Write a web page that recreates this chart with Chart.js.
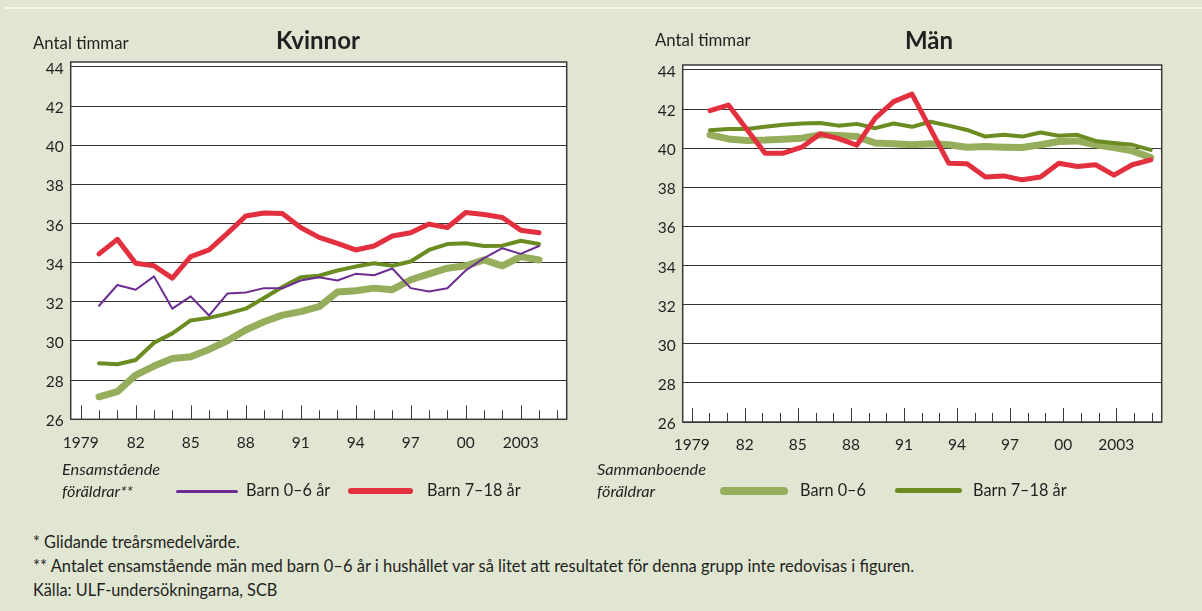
<!DOCTYPE html>
<html lang="sv">
<head>
<meta charset="utf-8">
<script src="https://cdn.jsdelivr.net/npm/chart.js@4.4.1/dist/chart.umd.min.js"></script>
<style>
  body { margin: 0; background: #e1e6d3; font-family: Lato, "Open Sans", sans-serif; color: #231f20; }
  #page { position: relative; width: 1202px; height: 611px; overflow: hidden; }
  .topline { position: absolute; left: 4px; right: 0; top: 7px; height: 2px; background: #f4f6ee; }
  canvas { position: absolute; top: 0; }
  .txt { position: absolute; white-space: nowrap; font-size: 16.3px; line-height: 1; }
  .title { position: absolute; font-size: 24px; font-weight: bold; line-height: 1; transform: translateX(-50%); }
  .sw { position: absolute; border-radius: 4px; }
  .it { font-style: italic; }
</style>
</head>
<body>
<div id="page">
  <div class="topline"></div>
  <canvas id="kvinnor" width="600" height="460" style="left:0"></canvas>
  <canvas id="man" width="602" height="460" style="left:600px"></canvas>

  <div class="txt" style="left:33px; top:35px; font-size:16.8px">Antal timmar</div>
  <div class="title" style="left:318px; top:28px">Kvinnor</div>
  <div class="txt" style="left:655px; top:32px; font-size:16.8px">Antal timmar</div>
  <div class="title" style="left:929px; top:28px">Män</div>

  <!-- legend -->
  <div class="txt it" style="left:62px; top:461px">Ensamstående</div>
  <div class="txt it" style="left:62px; top:483px">föräldrar**</div>
  <div class="sw" style="left:176px; top:490px; width:62px; height:3px; background:#6d2c91"></div>
  <div class="txt" style="left:246px; top:482px">Barn 0–6 år</div>
  <div class="sw" style="left:348px; top:488px; width:65px; height:6px; background:#e3303f"></div>
  <div class="txt" style="left:427px; top:482px">Barn 7–18 år</div>

  <div class="txt it" style="left:597px; top:461px">Sammanboende</div>
  <div class="txt it" style="left:597px; top:483px">föräldrar</div>
  <div class="sw" style="left:720px; top:487px; width:68px; height:8px; background:#96ad5b"></div>
  <div class="txt" style="left:800px; top:482px">Barn 0–6</div>
  <div class="sw" style="left:895px; top:488px; width:67px; height:5px; background:#6b8c21"></div>
  <div class="txt" style="left:973px; top:482px">Barn 7–18 år</div>

  <!-- notes -->
  <div class="txt" style="left:33px; top:534px">* Glidande treårsmedelvärde.</div>
  <div class="txt" style="left:33px; top:558px; font-size:16.5px">** Antalet ensamstående män med barn 0–6 år i hushållet var så litet att resultatet för denna grupp inte redovisas i figuren.</div>
  <div class="txt" style="left:33px; top:582px">Källa: ULF-undersökningarna, SCB</div>
</div>

<script>
// survey years
const years = [1980, 1981, 1982, 1983, 1984, 1985, 1986, 1987, 1988, 1989, 1990, 1991, 1992,
               1993, 1994, 1995, 1996, 1997, 1998, 1999, 2000, 2001, 2002, 2003, 2004];

// x axis labels (only every third year is labelled)
const tickYears = [1979, 1982, 1985, 1988, 1991, 1994, 1997, 2000, 2003];
const tickLabels = ['1979', '82', '85', '88', '91', '94', '97', '00', '2003'];

// women, hours per week
const kvinnorEnsam06 = [31.8, 32.86, 32.62, 33.3, 31.65, 32.28, 31.3, 32.42, 32.48, 32.7, 32.69, 33.09, 33.26,
                        33.09, 33.43, 33.36, 33.7, 32.7, 32.53, 32.69, 33.6, 34.23, 34.74, 34.45, 34.85];
const kvinnorEnsam718 = [34.45, 35.19, 33.97, 33.84, 33.21, 34.31, 34.65, 35.5, 36.38, 36.54, 36.51, 35.8, 35.29,
                         34.99, 34.65, 34.85, 35.36, 35.53, 35.97, 35.8, 36.56, 36.46, 36.31, 35.66, 35.53];
const kvinnorSamman06 = [27.15, 27.41, 28.26, 28.72, 29.11, 29.19, 29.57, 30.01, 30.56, 30.98, 31.32, 31.5, 31.75,
                         32.5, 32.57, 32.7, 32.62, 33.13, 33.43, 33.72, 33.84, 34.14, 33.84, 34.31, 34.14];
const kvinnorSamman718 = [28.86, 28.81, 29.03, 29.91, 30.39, 31.05, 31.18, 31.4, 31.65, 32.2, 32.76, 33.26, 33.33,
                          33.6, 33.8, 33.97, 33.84, 34.06, 34.65, 34.95, 34.99, 34.85, 34.87, 35.12, 34.95];

// men, hours per week
const manEnsam718 = [41.92, 42.2, 40.97, 39.74, 39.74, 40.05, 40.73, 40.49, 40.15, 41.53, 42.38, 42.76, 41.0,
                     39.23, 39.2, 38.52, 38.58, 38.38, 38.52, 39.23, 39.06, 39.15, 38.62, 39.15, 39.4];
const manSamman06 = [40.68, 40.47, 40.39, 40.41, 40.46, 40.51, 40.68, 40.64, 40.59, 40.26, 40.22, 40.17, 40.23,
                     40.17, 40.05, 40.08, 40.05, 40.03, 40.17, 40.34, 40.37, 40.17, 40.03, 39.86, 39.52];
const manSamman718 = [40.92, 40.98, 40.98, 41.09, 41.2, 41.26, 41.28, 41.15, 41.24, 41.02, 41.26, 41.09, 41.35,
                      41.15, 40.93, 40.59, 40.68, 40.59, 40.8, 40.63, 40.68, 40.37, 40.26, 40.17, 39.91];

const RED = '#e3303f', PURPLE = '#6d2c91', DARK = '#6b8c21', LIGHT = '#96ad5b';
const FONT = 'Lato, "Open Sans", sans-serif';

function pts(vals) {
    return years.map((yr, i) => ({ x: yr, y: vals[i] }));
}

function line(vals, color, width, axis) {
    return {
        data: pts(vals),
        borderColor: color,
        borderWidth: width,
        borderCapStyle: 'round',
        borderJoinStyle: 'round',
        pointRadius: 0,
        tension: 0,
        fill: false,
        xAxisID: axis
    };
}

// white plot area, frame and the small tick marks standing up from the bottom
const framePlugin = {
    id: 'frame',
    beforeDraw(chart) {
        const a = chart.chartArea, ctx = chart.ctx;
        ctx.save();
        ctx.fillStyle = '#fff';
        ctx.fillRect(a.left, a.top, a.right - a.left, a.bottom - a.top);
        ctx.restore();
    },
    beforeDatasetsDraw(chart) {
        const a = chart.chartArea, ctx = chart.ctx, sx = chart.scales.x;
        ctx.save();
        ctx.strokeStyle = '#3a3a3a';
        ctx.lineWidth = 1;
        sx.ticks.forEach((t, i) => {
            const px = Math.round(sx.getPixelForTick(i)) + 0.5;
            const len = tickYears.includes(t.value) ? 14 : 9;
            ctx.beginPath();
            ctx.moveTo(px, a.bottom);
            ctx.lineTo(px, a.bottom - len);
            ctx.stroke();
        });
        ctx.lineWidth = 1.5;
        ctx.strokeRect(a.left, a.top, a.right - a.left, a.bottom - a.top);
        ctx.restore();
    }
};

function makeChart(id, datasets, box, xRange, dataRange) {
    const scales = {
        x: {
            type: 'linear',
            min: xRange[0],
            max: xRange[1],
            grid: { display: false },
            border: { display: false },
            afterFit(s) { s.height = box.xh; },
            ticks: {
                stepSize: 1,
                includeBounds: false,
                autoSkip: false,
                maxRotation: 0,
                padding: 6,
                color: '#231f20',
                font: { family: FONT, size: 15.5 },
                callback: v => {
                    const k = tickYears.indexOf(v);
                    return k >= 0 ? tickLabels[k] : '';
                }
            }
        },
        y: {
            min: 26,
            max: 44.25,
            grid: { color: '#333', lineWidth: 1, drawTicks: false },
            border: { display: false },
            afterFit(s) { s.width = box.yw; },
            ticks: {
                stepSize: 2,
                includeBounds: false,
                padding: 7,
                labelOffset: 2,
                color: '#231f20',
                font: { family: FONT, size: 15.5 }
            }
        }
    };
    if (dataRange) {
        scales.xd = { type: 'linear', display: false, min: dataRange[0], max: dataRange[1] };
    }
    return new Chart(document.getElementById(id), {
        type: 'line',
        data: { datasets: datasets },
        options: {
            responsive: false,
            animation: false,
            layout: { padding: { top: box.top, right: box.right, left: 0, bottom: 0 } },
            plugins: { legend: { display: false }, tooltip: { enabled: false } },
            scales: scales
        },
        plugins: [framePlugin]
    });
}

makeChart('kvinnor', [
    line(kvinnorEnsam718, RED, 5, 'x'),
    line(kvinnorEnsam06, PURPLE, 2, 'x'),
    line(kvinnorSamman718, DARK, 4, 'x'),
    line(kvinnorSamman06, LIGHT, 7, 'x')
], { top: 62, right: 33.3, yw: 70.7, xh: 40.7 }, [1978.455, 2005.51]);

// the men's series sit on their own (hidden) year axis
makeChart('man', [
    line(manEnsam718, RED, 5, 'xd'),
    line(manSamman718, DARK, 4, 'xd'),
    line(manSamman06, LIGHT, 7, 'xd')
], { top: 65, right: 40.3, yw: 82.7, xh: 38 }, [1978.49, 2005.57], [1978.513, 2004.6]);
</script>
</body>
</html>
